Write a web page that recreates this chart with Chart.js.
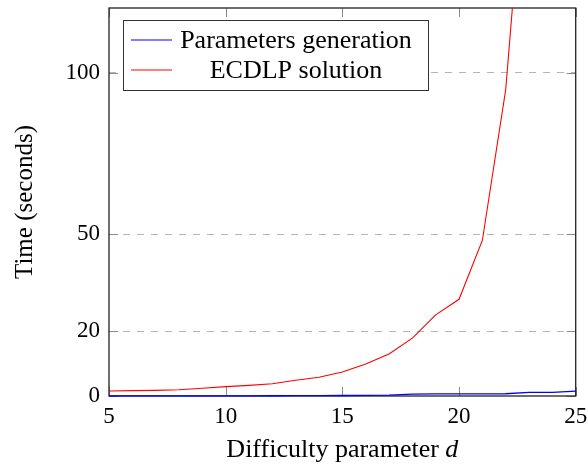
<!DOCTYPE html>
<html>
<head>
<meta charset="utf-8">
<script src="https://cdn.jsdelivr.net/npm/chart.js@4/dist/chart.umd.min.js"></script>
<style>
html,body{margin:0;padding:0;background:#fff;}
#wrap{width:588px;height:465px;}
</style>
</head>
<body>
<div id="wrap"><canvas id="c" width="588" height="465"></canvas></div>
<script>
const difficulty = [5,6,7,8,9,10,11,12,13,14,15,16,17,18,19,20,21,22,23,24,25];
const paramsGeneration = [0.01,0.01,0.02,0.02,0.03,0.04,0.05,0.07,0.09,0.12,0.15,0.2,0.25,0.6,0.65,0.65,0.65,0.7,1.1,1.15,1.5];
const ecdlpSolution = [1.55,1.65,1.75,1.95,2.4,2.9,3.3,3.8,4.85,5.8,7.4,9.9,13.0,17.9,25.1,29.9,48.1,94.7,183];
const yTickValues = [0,20,50,100];
const xTickValues = [5,10,15,20,25];
const seriesNames = ["Parameters generation","ECDLP solution"];
const seriesColors = ["#0000ff","#ff0000"];
const xTitle = "Difficulty parameter ";
const xTitleVar = "d";
const yTitle = "Time (seconds)";

const SERIF = "'Liberation Serif', 'DejaVu Serif', serif";

const framePlugin = {
  id: 'frame',
  beforeDatasetsDraw(chart) {
    const {ctx, chartArea: a, scales} = chart;
    ctx.save();
    ctx.strokeStyle = '#8a8a8a';
    ctx.lineWidth = 1;
    const tl = 9;
    xTickValues.forEach(v => {
      const x = Math.round(scales.x.getPixelForValue(v)) + 0.5;
      ctx.beginPath();
      ctx.moveTo(x, a.bottom); ctx.lineTo(x, a.bottom - tl);
      ctx.moveTo(x, a.top); ctx.lineTo(x, a.top + tl);
      ctx.stroke();
    });
    yTickValues.forEach(v => {
      const y = Math.round(scales.y.getPixelForValue(v)) + 0.5;
      ctx.beginPath();
      ctx.moveTo(a.left, y); ctx.lineTo(a.left + tl, y);
      ctx.moveTo(a.right, y); ctx.lineTo(a.right - tl, y);
      ctx.stroke();
    });
    ctx.strokeStyle = '#222';
    ctx.lineWidth = 1.3;
    ctx.strokeRect(a.left, a.top, a.right - a.left, a.bottom - a.top);
    ctx.restore();
  },
  afterDatasetsDraw(chart) {
    const {ctx, chartArea: a} = chart;
    ctx.save();
    const lx = 123.5, ly = 20.5, lw = 305, lh = 70;
    ctx.fillStyle = '#fff';
    ctx.fillRect(lx, ly, lw, lh);
    ctx.strokeStyle = '#333';
    ctx.lineWidth = 1;
    ctx.strokeRect(lx, ly, lw, lh);
    const rows = [40, 70];
    ctx.font = "26px " + SERIF;
    ctx.textAlign = 'center';
    ctx.textBaseline = 'alphabetic';
    seriesNames.forEach((n, i) => {
      ctx.strokeStyle = seriesColors[i];
      ctx.lineWidth = 1.2;
      ctx.beginPath();
      ctx.moveTo(131, rows[i]); ctx.lineTo(172, rows[i]);
      ctx.stroke();
      ctx.fillStyle = '#000';
      ctx.fillText(n, 296, rows[i] + 8);
    });

    ctx.fillStyle = '#000';
    ctx.font = "26px " + SERIF;
    const w1 = ctx.measureText(xTitle).width;
    ctx.font = "italic 26px " + SERIF;
    const w2 = ctx.measureText(xTitleVar).width;
    const cx = (a.left + a.right) / 2;
    const sx = cx - (w1 + w2) / 2;
    ctx.textAlign = 'left';
    ctx.font = "26px " + SERIF;
    ctx.fillText(xTitle, sx, 456.5);
    ctx.font = "italic 26px " + SERIF;
    ctx.fillText(xTitleVar, sx + w1, 456.5);

    ctx.translate(25, (a.top + a.bottom) / 2);
    ctx.rotate(-Math.PI / 2);
    ctx.textAlign = 'center';
    ctx.textBaseline = 'middle';
    ctx.font = "25px " + SERIF;
    ctx.fillText(yTitle, 0, 0);
    ctx.restore();
  }
};

function noPad(s) { s.paddingTop = 0; s.paddingBottom = 0; s.paddingLeft = 0; s.paddingRight = 0; }

new Chart(document.getElementById('c'), {
  type: 'line',
  data: {
    datasets: [
      {label: seriesNames[0], data: paramsGeneration.map((v, i) => ({x: difficulty[i], y: v})),
       borderColor: seriesColors[0], borderWidth: 1.3, pointRadius: 0, tension: 0, fill: false,
       clip: {top: 0, bottom: 2, left: 1, right: 1}},
      {label: seriesNames[1], data: ecdlpSolution.map((v, i) => ({x: difficulty[i], y: v})),
       borderColor: seriesColors[1], borderWidth: 1.1, pointRadius: 0, tension: 0, fill: false,
       clip: {top: 0, bottom: 2, left: 1, right: 1}}
    ]
  },
  options: {
    responsive: false,
    animation: false,
    layout: {padding: {top: 8, right: 12.3, left: 0, bottom: 0}},
    plugins: {legend: {display: false}, tooltip: {enabled: false}},
    scales: {
      x: {
        type: 'linear', min: 5, max: 25,
        afterBuildTicks: s => { s.ticks = xTickValues.map(v => ({value: v})); },
        afterFit: s => { s.height = 69; noPad(s); },
        ticks: {font: {family: SERIF, size: 23}, color: '#000', padding: 7, maxRotation: 0},
        grid: {display: false, drawTicks: false},
        border: {display: false}
      },
      y: {
        type: 'linear', min: 0, max: 120,
        afterBuildTicks: s => { s.ticks = yTickValues.map(v => ({value: v})); },
        afterFit: s => { s.width = 109; noPad(s); },
        ticks: {font: {family: SERIF, size: 23}, color: '#000', padding: 9},
        grid: {drawTicks: false, color: c => (c.tick && c.tick.value === 0) ? 'rgba(0,0,0,0)' : '#b4b4b4', lineWidth: 1},
        border: {display: false, dash: [7, 7]}
      }
    }
  },
  plugins: [framePlugin]
});
</script>
</body>
</html>
